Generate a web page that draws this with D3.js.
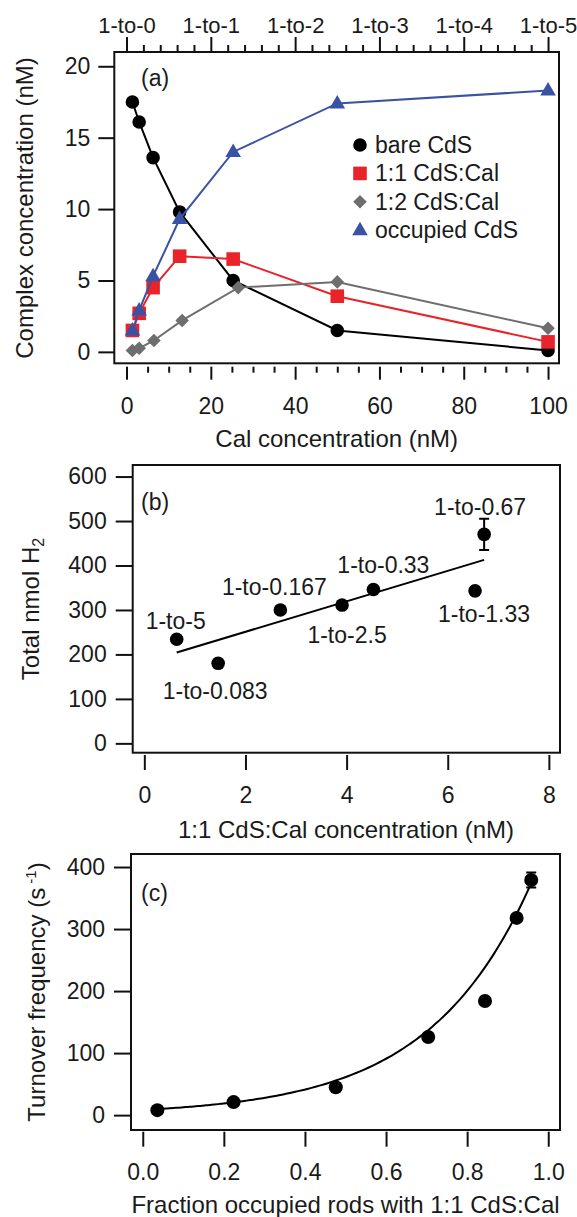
<!DOCTYPE html>
<html>
  <head>
    <title>CdS:Cal complexes</title>
    <script src="https://d3js.org/d3.v7.min.js"></script>
    <style>
    body { margin: 0; background-color: #ffffff; }
    text { font-family: "Liberation Sans", Arial, sans-serif; fill: #1a1a1a; }
    </style>
  </head>
  <body>
<script>
// ---- data: panel (a)
var calConc = [1.4, 3.0, 6.3, 12.6, 25.3, 50, 100];
var calConcGray = [1.4, 3.0, 6.5, 13.2, 26.5, 50, 100];
var bareCdS = [17.5, 16.1, 13.6, 9.8, 5.0, 1.5, 0.1];
var cds11 = [1.5, 2.7, 4.5, 6.7, 6.5, 3.9, 0.7];
var cds12 = [0.1, 0.25, 0.8, 2.2, 4.5, 4.9, 1.65];
var occupied = [1.5, 2.9, 5.3, 9.3, 14.0, 17.4, 18.3];
var topTicks = [0, 20, 40, 60, 80, 100];
var topLabels = ["1-to-0", "1-to-1", "1-to-2", "1-to-3", "1-to-4", "1-to-5"];
var legendNames = ["bare CdS", "1:1 CdS:Cal", "1:2 CdS:Cal", "occupied CdS"];

// ---- data: panel (b)
var conc11 = [0.64, 1.46, 2.69, 3.91, 4.53, 6.54, 6.72];
var totalH2 = [234, 180, 300, 311, 346, 343, 470];
var totalH2Err = [0, 0, 0, 0, 0, 0, 35];
var ratioLabels = ["1-to-5", "1-to-0.083", "1-to-0.167", "1-to-2.5", "1-to-0.33", "1-to-1.33", "1-to-0.67"];

// ---- data: panel (c)
var fracOccupied = [0.036, 0.224, 0.476, 0.704, 0.844, 0.922, 0.958];
var tof = [8, 21, 45, 126, 184, 318, 379];
var tofErr = [0, 0, 0, 0, 0, 0, 12];
var fitA = 8.5, fitK = 3.95;   // exponential fit

// label offsets for panel (b), in pixels from each point
var labelOffsets = [[-1, -10], [-3, 36], [-6, -15], [5, 38], [10, -17], [9, 31], [-4, -19]];

var w = 577, h = 1217;
var fsTick = 23, fsTitle = 24, fsText = 23;

var svg = d3.select("body").append("svg")
  .attr("width", w)
  .attr("height", h);

function frame(x, y) {
  var r = x.range(), s = y.range();
  svg.append("rect")
    .attr("x", r[0]).attr("y", s[1])
    .attr("width", r[1] - r[0]).attr("height", s[0] - s[1])
    .attr("fill", "none").attr("stroke", "#111").attr("stroke-width", 2);
}

function styleAxis(g, size) {
  g.select(".domain").remove();
  g.selectAll(".tick line").attr("stroke", "#111").attr("stroke-width", 2);
  g.selectAll(".tick text").style("font-size", (size || fsTick) + "px").attr("fill", "#1a1a1a")
    .style("font-family", "'Liberation Sans', Arial, sans-serif");
}

function yTitle(x, y, txt) {
  return svg.append("text")
    .attr("transform", "translate(" + x + "," + y + ") rotate(-90)")
    .attr("text-anchor", "middle")
    .style("font-size", fsTitle + "px")
    .text(txt);
}

function xTitle(x, y, txt) {
  svg.append("text")
    .attr("x", x).attr("y", y)
    .attr("text-anchor", "middle")
    .style("font-size", fsTitle + "px")
    .text(txt);
}

// ================= panel (a)
var ax = d3.scaleLinear().domain([-2.9, 102.6]).range([114.3, 559]);
var ay = d3.scaleLinear().domain([-0.8, 21]).range([363.3, 52]);

svg.append("g").attr("transform", "translate(114.3,0)")
  .call(d3.axisLeft(ay).tickValues([0, 5, 10, 15, 20]).tickSize(16).tickPadding(8))
  .call(styleAxis);
svg.append("g").attr("transform", "translate(0,366.7)")
  .call(d3.axisBottom(ax).tickValues(d3.range(0, 101, 5).filter(function(d){ return d % 20; }))
    .tickSize(6).tickFormat(""))
  .call(styleAxis);
svg.append("g").attr("transform", "translate(0,366.7)")
  .call(d3.axisBottom(ax).tickValues([0, 20, 40, 60, 80, 100]).tickSize(13).tickPadding(18))
  .call(styleAxis);
svg.append("g").attr("transform", "translate(0,52)")
  .call(d3.axisTop(ax).tickValues(d3.range(0, 101, 4).filter(function(d){ return d % 20; }))
    .tickSize(7).tickFormat(""))
  .call(styleAxis);
svg.append("g").attr("transform", "translate(0,52)")
  .call(d3.axisTop(ax).tickValues(topTicks).tickSize(15).tickPadding(4)
    .tickFormat(function(d, i){ return topLabels[i]; }))
  .call(styleAxis, 22);
frame(ax, ay);

var symbols = {
  circle: function(s) { return d3.symbol(d3.symbolCircle, Math.PI * 6.8 * 6.8)(); },
  square: function() { return "M-6.8,-6.8H6.8V6.8H-6.8Z"; },
  diamond: function() { return "M0,-6.8L6.8,0L0,6.8L-6.8,0Z"; },
  triangle: function() { return "M0,-8.5L7.8,5L-7.8,5Z"; }
};

var seriesA = [
  { name: legendNames[0], x: calConc, y: bareCdS, color: "#000000", sym: "circle" },
  { name: legendNames[1], x: calConc, y: cds11, color: "#e8232a", sym: "square" },
  { name: legendNames[2], x: calConcGray, y: cds12, color: "#6e6e6e", sym: "diamond" },
  { name: legendNames[3], x: calConc, y: occupied, color: "#3a52a3", sym: "triangle" }
];

var lineA = d3.line()
  .x(function(d){ return ax(d[0]); })
  .y(function(d){ return ay(d[1]); });

seriesA.forEach(function(s) {
  var pts = d3.zip(s.x, s.y);
  svg.append("path").datum(pts)
    .attr("d", lineA)
    .attr("fill", "none").attr("stroke", s.color).attr("stroke-width", 2);
  svg.append("g").selectAll("path").data(pts).enter().append("path")
    .attr("d", symbols[s.sym]())
    .attr("transform", function(d){ return "translate(" + ax(d[0]) + "," + ay(d[1]) + ")"; })
    .attr("fill", s.color);
});

// legend
var legend = svg.append("g");
legend.selectAll("path").data(seriesA).enter().append("path")
  .attr("d", function(s){ return symbols[s.sym](); })
  .attr("transform", function(s, i){ return "translate(360," + (145 + i * 28.4) + ")"; })
  .attr("fill", function(s){ return s.color; });
legend.selectAll("text").data(seriesA).enter().append("text")
  .attr("x", 375)
  .attr("y", function(s, i){ return 145 + i * 28.4 + 8; })
  .style("font-size", fsText + "px")
  .text(function(s){ return s.name; });

svg.append("text").attr("x", 141).attr("y", 86).style("font-size", fsText + "px").text("(a)");
yTitle(33, 208, "Complex concentration (nM)");
xTitle(336.7, 447, "Cal concentration (nM)");

// ================= panel (b)
var bx = d3.scaleLinear().domain([-0.23, 8.22]).range([132.7, 560]);
var by = d3.scaleLinear().domain([-21, 626]).range([752.7, 465]);

svg.append("g").attr("transform", "translate(132.7,0)")
  .call(d3.axisLeft(by).tickValues(d3.range(0, 601, 100)).tickSize(17).tickPadding(9))
  .call(styleAxis);
svg.append("g").attr("transform", "translate(0,755)")
  .call(d3.axisBottom(bx).tickValues([0, 2, 4, 6, 8]).tickSize(15).tickPadding(17))
  .call(styleAxis);
frame(bx, by);

// linear least-squares fit of the data
var mx = d3.mean(conc11), my = d3.mean(totalH2);
var sxy = d3.sum(conc11, function(v, i){ return (v - mx) * (totalH2[i] - my); });
var sxx = d3.sum(conc11, function(v){ return (v - mx) * (v - mx); });
var slope = sxy / sxx, icpt = my - slope * mx;
var fitB = d3.extent(conc11).map(function(v){ return [v, icpt + slope * v]; });
svg.append("path").datum(fitB)
  .attr("d", d3.line().x(function(d){ return bx(d[0]); }).y(function(d){ return by(d[1]); }))
  .attr("stroke", "#000").attr("stroke-width", 2).attr("fill", "none");

var ptsB = d3.zip(conc11, totalH2, totalH2Err, ratioLabels, labelOffsets);
var gB = svg.append("g");
ptsB.filter(function(d){ return d[2] > 0; }).forEach(function(d) {
  var x = bx(d[0]);
  gB.append("path")
    .attr("d", "M" + x + "," + by(d[1] - d[2]) + "V" + by(d[1] + d[2]) +
      "M" + (x - 5) + "," + by(d[1] - d[2]) + "H" + (x + 5) +
      "M" + (x - 5) + "," + by(d[1] + d[2]) + "H" + (x + 5))
    .attr("stroke", "#000").attr("stroke-width", 2).attr("fill", "none");
});
gB.selectAll("circle").data(ptsB).enter().append("circle")
  .attr("cx", function(d){ return bx(d[0]); })
  .attr("cy", function(d){ return by(d[1]); })
  .attr("r", 6.8).attr("fill", "#000");
gB.selectAll("text").data(ptsB).enter().append("text")
  .attr("x", function(d){ return bx(d[0]) + d[4][0]; })
  .attr("y", function(d){ return by(d[1]) + d[4][1]; })
  .attr("text-anchor", "middle")
  .style("font-size", fsText + "px")
  .text(function(d){ return d[3]; });

svg.append("text").attr("x", 141).attr("y", 510).style("font-size", fsText + "px").text("(b)");
var tB = yTitle(39, 609, "Total nmol H");
tB.append("tspan").attr("dy", 5).style("font-size", "16px").text("2");
xTitle(346, 838, "1:1 CdS:Cal concentration (nM)");

// ================= panel (c)
var cx = d3.scaleLinear().domain([-0.029, 1.029]).range([131, 560]);
var cy = d3.scaleLinear().domain([-24, 421]).range([1130, 854]);

svg.append("g").attr("transform", "translate(131,0)")
  .call(d3.axisLeft(cy).tickValues([0, 100, 200, 300, 400]).tickSize(17).tickPadding(9))
  .call(styleAxis);
svg.append("g").attr("transform", "translate(0,1131.7)")
  .call(d3.axisBottom(cx).tickValues([0, 0.2, 0.4, 0.6, 0.8, 1.0]).tickSize(15).tickPadding(17)
    .tickFormat(d3.format(".1f")))
  .call(styleAxis);
frame(cx, cy);

var fitXs = d3.range(d3.min(fracOccupied), d3.max(fracOccupied) + 1e-9, 0.01);
svg.append("path").datum(fitXs)
  .attr("d", d3.line().curve(d3.curveMonotoneX)
    .x(function(v){ return cx(v); })
    .y(function(v){ return cy(fitA * Math.exp(fitK * v)); }))
  .attr("stroke", "#000").attr("stroke-width", 2).attr("fill", "none");

var ptsC = d3.zip(fracOccupied, tof, tofErr);
var gC = svg.append("g");
ptsC.filter(function(d){ return d[2] > 0; }).forEach(function(d) {
  var x = cx(d[0]);
  gC.append("path")
    .attr("d", "M" + x + "," + cy(d[1] - d[2]) + "V" + cy(d[1] + d[2]) +
      "M" + (x - 5) + "," + cy(d[1] - d[2]) + "H" + (x + 5) +
      "M" + (x - 5) + "," + cy(d[1] + d[2]) + "H" + (x + 5))
    .attr("stroke", "#000").attr("stroke-width", 2).attr("fill", "none");
});
gC.selectAll("circle").data(ptsC).enter().append("circle")
  .attr("cx", function(d){ return cx(d[0]); })
  .attr("cy", function(d){ return cy(d[1]); })
  .attr("r", 7).attr("fill", "#000");

svg.append("text").attr("x", 141).attr("y", 901).style("font-size", fsText + "px").text("(c)");
var tC = yTitle(45, 992, "Turnover frequency (s");
tC.append("tspan").attr("dy", -9).style("font-size", "15px").text(" -1");
tC.append("tspan").attr("dy", 9).text(")");
xTitle(345.5, 1213, "Fraction occupied rods with 1:1 CdS:Cal");
</script>
  </body>
</html>
